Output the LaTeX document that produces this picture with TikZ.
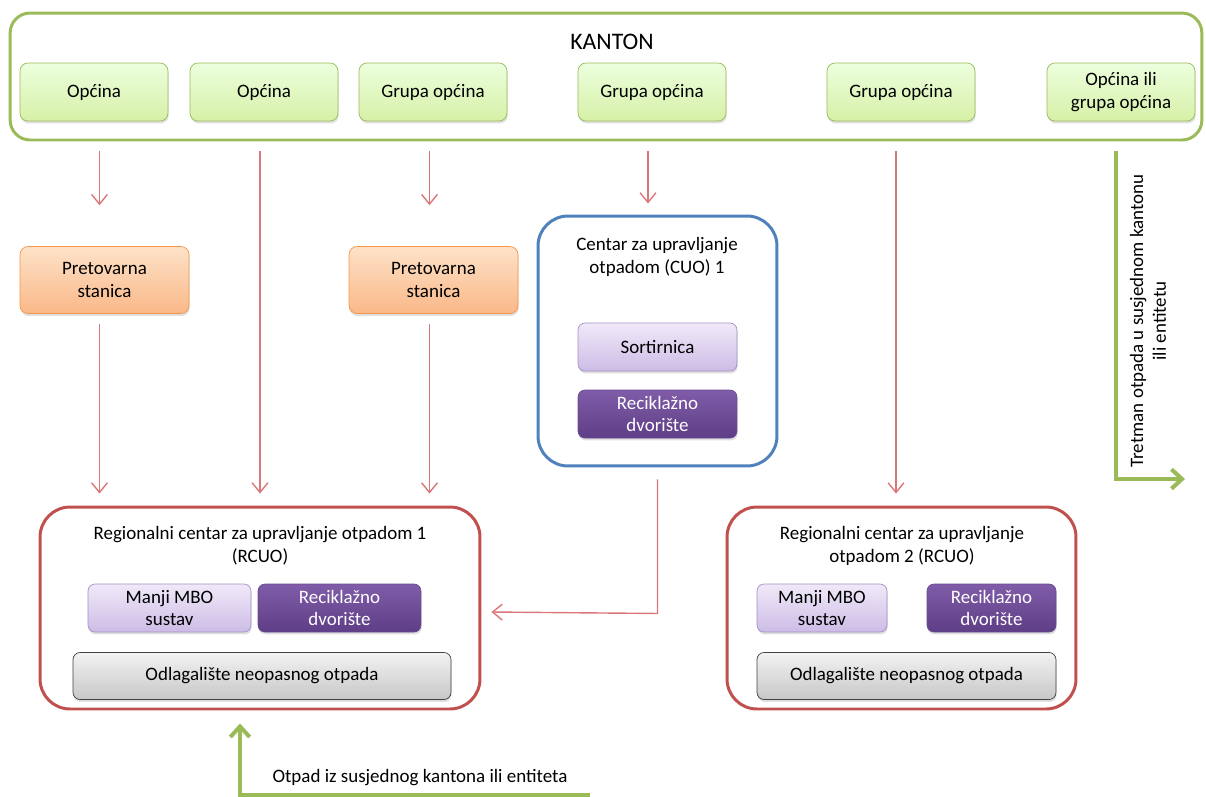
\documentclass[tikz,border=0pt]{standalone}
\usepackage{xcolor}
\usepackage{fontspec}
\setmainfont{Carlito}
\usepackage{tikz}
\usetikzlibrary{arrows.meta,shadows}

\definecolor{kgreen}{HTML}{9BBB59}
\definecolor{kred}{HTML}{C0504D}
\definecolor{arrred}{HTML}{D9777A}
\definecolor{kblue}{HTML}{4F81BD}
\definecolor{korange}{HTML}{F79646}
\definecolor{lpurple}{HTML}{A58FC5}
\definecolor{dpurple}{HTML}{6A4A92}

\begin{document}
\begin{tikzpicture}[x=0.02cm, y=-0.02cm,
    every node/.style={font=\fontsize{10.8}{13}\selectfont, align=center},
    shad/.style={drop shadow={shadow xshift=0.4pt, shadow yshift=-1.4pt, opacity=0.25}},
    gbox/.style={draw=kgreen, rounded corners=0.16cm, top color=green!8!white!95!yellow, bottom color={rgb,255:red,214;green,240;blue,166}, shad, minimum width=2.96cm, minimum height=1.16cm},
    obox/.style={draw=korange, rounded corners=0.16cm, top color={rgb,255:red,253;green,226;blue,200}, bottom color={rgb,255:red,250;green,184;blue,136}, shad, minimum width=3.38cm, minimum height=1.34cm},
    lpbox/.style={draw=lpurple, rounded corners=0.14cm, top color={rgb,255:red,240;green,233;blue,248}, bottom color={rgb,255:red,205;green,188;blue,230}, shad, minimum height=0.96cm},
    dpbox/.style={draw=dpurple, rounded corners=0.14cm, top color={rgb,255:red,128;green,92;blue,168}, bottom color={rgb,255:red,94;green,62;blue,134}, text=white, shad, minimum height=0.96cm},
    graybox/.style={draw=black!75, rounded corners=0.14cm, top color=black!5, bottom color=black!22, shad, minimum height=0.94cm},
    bigbox/.style={line width=1.7pt, rounded corners=0.6cm},
    redarr/.style={draw=arrred, line width=0.8pt, -{Straight Barb[length=5.5pt, width=9pt]}},
    greenarr/.style={draw=kgreen, line width=2.3pt, -{Straight Barb[length=6pt, width=11pt]}}]
  \useasboundingbox (0,0) rectangle (1206,796);

  \node[draw=kgreen, line width=1.7pt, rounded corners=0.4cm, minimum width=23.84cm, minimum height=2.54cm] (kanton) at (606,76.5) {};
  \node[font=\fontsize{13.5}{16}\selectfont] (kantonlbl) at (612,42) {KANTON};
  \node[gbox] (op1) at (94,92) {Općina};
  \node[gbox] (op2) at (264,92) {Općina};
  \node[gbox] (grp1) at (433,92) {Grupa općina};
  \node[gbox] (grp2) at (652,92) {Grupa općina};
  \node[gbox] (grp3) at (901,92) {Grupa općina};
  \node[gbox] (op3) at (1121,92) {Općina ili\\grupa općina};

  \node[obox] (pret1) at (104.5,280) {Pretovarna\\stanica};
  \node[obox] (pret2) at (433.5,280) {Pretovarna\\stanica};

  \node[bigbox, draw=kblue, minimum width=4.78cm, minimum height=5cm] (cuo) at (657.5,341) {};
  \node (cuolbl) at (657,257) {Centar za upravljanje\\otpadom (CUO) 1};
  \node[lpbox, minimum width=3.18cm] (sort) at (657.5,347) {Sortirnica};
  \node[dpbox, minimum width=3.18cm] (rd0) at (657.5,414) {Reciklažno\\dvorište};

  \node[bigbox, draw=kred, minimum width=8.8cm, minimum height=4.04cm] (rcuo1) at (260,608) {};
  \node (rcuo1lbl) at (260,546) {Regionalni centar za upravljanje otpadom 1\\(RCUO)};
  \node[lpbox, minimum width=3.26cm] (mbo1) at (169.5,608) {Manji MBO\\sustav};
  \node[dpbox, minimum width=3.26cm] (rd1) at (339.5,608) {Reciklažno\\dvorište};
  \node[graybox, minimum width=7.56cm] (odl1) at (262,676) {Odlagalište neopasnog otpada};

  \node[bigbox, draw=kred, minimum width=6.98cm, minimum height=4.04cm] (rcuo2) at (901.5,608) {};
  \node (rcuo2lbl) at (902,546) {Regionalni centar za upravljanje\\otpadom 2 (RCUO)};
  \node[lpbox, minimum width=2.6cm] (mbo2) at (822,608) {Manji MBO\\sustav};
  \node[dpbox, minimum width=2.58cm] (rd2) at (991.5,608) {Reciklažno\\dvorište};
  \node[graybox, minimum width=5.98cm] (odl2) at (906.5,676) {Odlagalište neopasnog otpada};

  \draw[redarr, shorten <=0.2cm, shorten >=0.82cm] (kanton.south -| pret1.north) ++(-5,0) coordinate (c1) (c1) -- (c1 |- pret1.north);
  \draw[redarr, shorten <=0.2cm, shorten >=0.24cm] (kanton.south -| rcuo1.north) -- (rcuo1.north);
  \draw[redarr, shorten <=0.2cm, shorten >=0.82cm] (kanton.south -| pret2.north) ++(-4,0) coordinate (c2) (c2) -- (c2 |- pret2.north);
  \draw[redarr, shorten <=0.2cm, shorten >=0.22cm] (kanton.south -| grp2) ++(-4,0) coordinate (c3) (c3) -- (c3 |- cuo.north);
  \draw[redarr, shorten <=0.2cm, shorten >=0.24cm] (kanton.south -| grp3) ++(-5,0) coordinate (c4) (c4) -- (c4 |- rcuo2.north);
  \draw[redarr, shorten <=0.2cm, shorten >=0.24cm] (c1 |- pret1.south) -- (c1 |- rcuo1.north);
  \draw[redarr, shorten <=0.2cm, shorten >=0.24cm] (c2 |- pret2.south) -- (c2 |- rcuo1.north);
  \draw[redarr] ([yshift=-0.24cm]cuo.south) -- ++(0,134) -- ([xshift=0.2cm, yshift=-0.08cm]rcuo1.east);

  \coordinate (tretcorner) at (1116,479);
  \draw[greenarr] ([yshift=-0.2cm]kanton.south -| tretcorner) -- (tretcorner) -- ++(69,0);
  \node[rotate=90] (tretlbl) at (1148,321) {Tretman otpada u susjednom kantonu\\ili entitetu};

  \coordinate (otpadend) at (590,795);
  \draw[greenarr] (otpadend) -- (otpadend -| 240,0) -- ([yshift=-0.26cm]rcuo1.south -| 240,0);
  \node (otpadlbl) at (420,778) {Otpad iz susjednog kantona ili entiteta};
\end{tikzpicture}
\end{document}
